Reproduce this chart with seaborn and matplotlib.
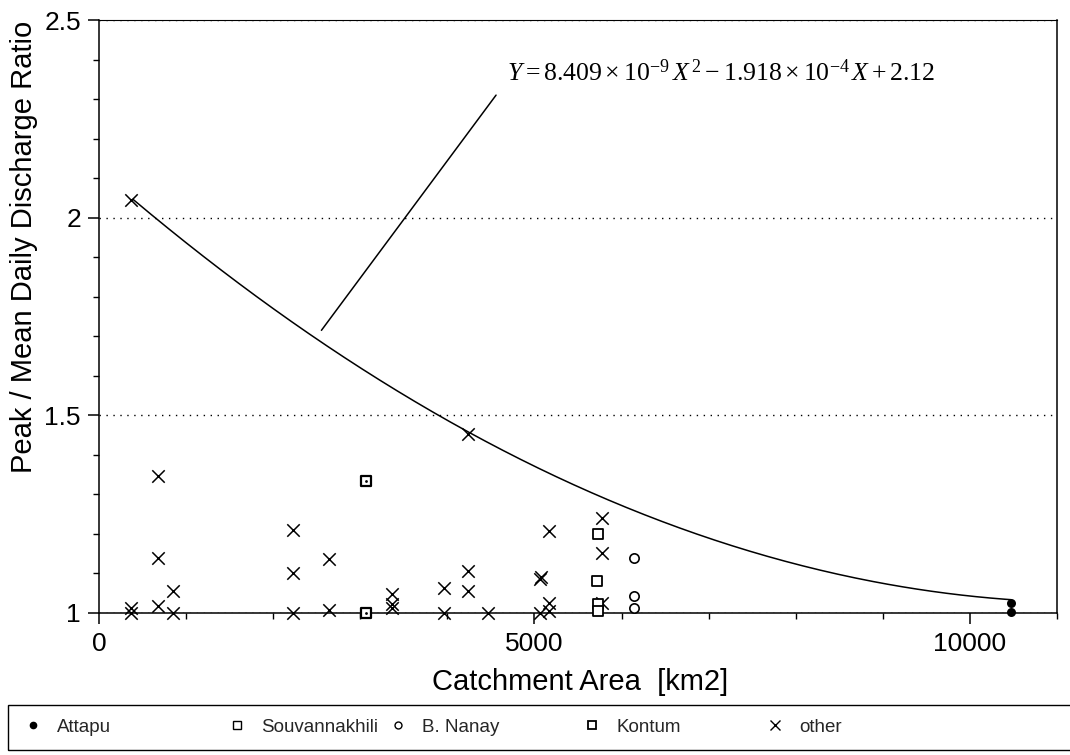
import numpy as np
import pandas as pd
import matplotlib
matplotlib.use("Agg")
import matplotlib.pyplot as plt
import seaborn as sns
from matplotlib.lines import Line2D
from matplotlib.patches import Rectangle
from matplotlib.ticker import MultipleLocator, FuncFormatter

# Peak / mean daily discharge ratio by catchment area for each gauging station
attapu_area = [10474, 10474]
attapu_ratio = [1.026, 1.003]

souv_area = [5730, 5720, 5730, 5730]
souv_ratio = [1.200, 1.080, 1.022, 1.006]

nanay_area = [6140, 6140, 6140]
nanay_ratio = [1.138, 1.044, 1.012]

kontum_area = [3066, 3066]
kontum_ratio = [1.335, 1.000]

other_area = [370, 370, 370, 680, 680, 680, 851, 851, 2226, 2226, 2226,
              2646, 2646, 3364, 3364, 3364, 3963, 3963, 4242, 4242, 4242,
              4470, 5060, 5070, 5060, 5170, 5170, 5170, 5777, 5777, 5777]
other_ratio = [2.045, 1.013, 1.000, 1.347, 1.140, 1.018, 1.056, 1.000,
               1.210, 1.100, 1.000, 1.136, 1.008, 1.048, 1.022, 1.012,
               1.062, 1.000, 1.453, 1.105, 1.056, 1.000, 1.085, 1.090,
               1.000, 1.208, 1.025, 1.005, 1.240, 1.153, 1.025]

# envelope curve Y = a X^2 + b X + c
envelope_coef = [8.409e-9, -1.918e-4, 2.12]
envelope_range = [390, 10474]

legend_labels = ["Attapu", "Souvannakhili", "B. Nanay", "Kontum", "other"]

sns.set_theme(style="ticks")
plt.rcParams["font.family"] = ["Liberation Sans", "DejaVu Sans"]
plt.rcParams["mathtext.fontset"] = "custom"
plt.rcParams["mathtext.rm"] = "Liberation Serif"
plt.rcParams["mathtext.it"] = "Liberation Serif:italic"
plt.rcParams["mathtext.bf"] = "Liberation Serif:bold"

fig = plt.figure(figsize=(10.70, 7.55), dpi=100)
ax = fig.add_axes([0.0925, 0.1881, 0.8954, 0.7854])

def frame(area, ratio):
    return pd.DataFrame({"area": area, "ratio": ratio})

# envelope curve
env_x = np.linspace(envelope_range[0], envelope_range[1], 300)
env = pd.DataFrame({"area": env_x, "ratio": np.polyval(envelope_coef, env_x)})
sns.lineplot(data=env, x="area", y="ratio", ax=ax, color="black", lw=1.1,
             zorder=2, legend=False)

# station markers
point_kw = dict(x="area", y="ratio", ax=ax, clip_on=False)
sns.scatterplot(data=frame(other_area, other_ratio), marker="x", s=80,
                color="black", linewidth=1.1, zorder=3, **point_kw)
sns.scatterplot(data=frame(souv_area, souv_ratio), marker="s", s=55,
                facecolor="white", edgecolor="black", linewidth=1.3,
                zorder=4, **point_kw)
sns.scatterplot(data=frame(nanay_area, nanay_ratio), marker="o", s=45,
                facecolor="white", edgecolor="black", linewidth=1.2,
                zorder=4, **point_kw)
sns.scatterplot(data=frame(kontum_area, kontum_ratio), marker="s", s=55,
                facecolor="white", edgecolor="black", linewidth=1.6,
                zorder=4, **point_kw)
sns.scatterplot(data=frame(kontum_area, kontum_ratio), marker="o", s=4,
                color="black", linewidth=0, zorder=5, **point_kw)
sns.scatterplot(data=frame(attapu_area, attapu_ratio), marker="o", s=42,
                color="black", linewidth=0, zorder=5, **point_kw)

ax.set_xlim(0, 11000)
ax.set_ylim(1, 2.5)
ax.xaxis.set_major_locator(MultipleLocator(5000))
ax.xaxis.set_minor_locator(MultipleLocator(1000))
ax.yaxis.set_major_locator(MultipleLocator(0.5))
ax.yaxis.set_minor_locator(MultipleLocator(0.1))
ax.xaxis.set_major_formatter(FuncFormatter(lambda v, p: f"{v:.0f}"))
ax.yaxis.set_major_formatter(FuncFormatter(lambda v, p: f"{v:g}"))

ax.tick_params(axis="both", which="major", direction="out", length=8, width=1.1,
               labelsize=19, color="black", labelcolor="black")
ax.tick_params(axis="x", which="major", pad=6)
ax.tick_params(axis="y", which="major", pad=5)
ax.tick_params(axis="both", which="minor", direction="out", length=4, width=1.0,
               color="black")
for side in ["left", "bottom", "right", "top"]:
    ax.spines[side].set_visible(True)
    ax.spines[side].set_color("black")
    ax.spines[side].set_linewidth(1.1)
ax.spines["top"].set_linewidth(0.8)

# dotted reference lines at the major ratio levels
ax.yaxis.grid(True, which="major", linestyle=(0, (1, 4)), color="black", lw=1.0)
ax.set_axisbelow(True)

ax.set_xlabel("Catchment Area  [km2]", fontsize=21, color="black")
ax.set_ylabel("Peak / Mean Daily Discharge Ratio", fontsize=21, color="black")
ax.xaxis.set_label_coords(0.502, -0.093)
ax.yaxis.set_label_coords(-0.064, 0.617)
ax.xaxis.label.set_va("top")

# equation label with leader line to the curve
lead_x = 2554
ax.annotate("", xy=(lead_x, np.polyval(envelope_coef, lead_x) + 0.03),
            xytext=(4559, 2.31),
            arrowprops=dict(arrowstyle="-", color="black", lw=1.1,
                            shrinkA=0, shrinkB=0))
ax.text(4685, 2.366,
        r"$Y = 8.409\times10^{-9}\,X^{\,2} - 1.918\times10^{-4}\,X + 2.12$",
        fontsize=18.5, ha="left", va="center", color="black")

# legend strip beneath the plot
fig.patches.append(Rectangle((8 / 1070, 5 / 755), 1.0, 45 / 755,
                             transform=fig.transFigure, fill=False,
                             edgecolor="black", lw=1.0))
handles = [
    Line2D([], [], ls="none", marker="o", ms=4.5, mfc="black", mec="black"),
    Line2D([], [], ls="none", marker="s", ms=6, mfc="white", mec="black", mew=1.0),
    Line2D([], [], ls="none", marker="o", ms=5, mfc="white", mec="black", mew=1.0),
    Line2D([], [], ls="none", marker="s", ms=6, mfc="white", mec="black", mew=1.3),
    Line2D([], [], ls="none", marker="x", ms=6.5, mec="black", mew=1.0),
]
marker_px = [33, 237, 398, 592, 775]
legend_fs = 13.5
fs_px = legend_fs * 100 / 72
for h, lab, mx in zip(handles, legend_labels, marker_px):
    left = (mx - fs_px * 0.5) / 1070
    fig.legend(handles=[h], labels=[lab], loc="center left",
               bbox_to_anchor=(left, 28 / 755), frameon=False,
               fontsize=legend_fs, handlelength=1.0,
               handletextpad=(24 - fs_px * 0.5) / fs_px,
               borderpad=0, borderaxespad=0)

fig.savefig("out.png", dpi=100)
